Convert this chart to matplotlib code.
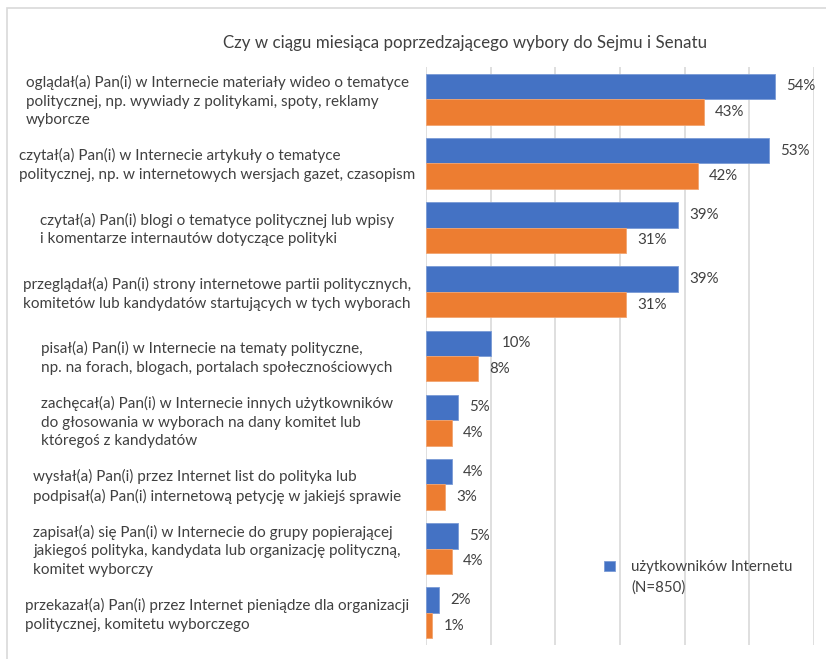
import matplotlib
matplotlib.use("Agg")
import matplotlib.pyplot as plt
from matplotlib.patches import Rectangle
import numpy as np

categories = [
    "oglądał(a) Pan(i) w Internecie materiały wideo o tematyce\npolitycznej, np. wywiady z politykami, spoty, reklamy\nwyborcze",
    "czytał(a) Pan(i) w Internecie artykuły o tematyce\npolitycznej, np. w internetowych wersjach gazet, czasopism",
    "czytał(a) Pan(i) blogi o tematyce politycznej lub wpisy\ni komentarze internautów dotyczące polityki",
    "przeglądał(a) Pan(i) strony internetowe partii politycznych,\nkomitetów lub kandydatów startujących w tych wyborach",
    "pisał(a) Pan(i) w Internecie na tematy polityczne,\nnp. na forach, blogach, portalach społecznościowych",
    "zachęcał(a) Pan(i) w Internecie innych użytkowników\ndo głosowania w wyborach na dany komitet lub\nktóregoś z kandydatów",
    "wysłał(a) Pan(i) przez Internet list do polityka lub\npodpisał(a) Pan(i) internetową petycję w jakiejś sprawie",
    "zapisał(a) się Pan(i) w Internecie do grupy popierającej\njakiegoś polityka, kandydata lub organizację polityczną,\nkomitet wyborczy",
    "przekazał(a) Pan(i) przez Internet pieniądze dla organizacji\npolitycznej, komitetu wyborczego",
]
users_internet = [54, 53, 39, 39, 10, 5, 4, 5, 2]
all_respondents = [43, 42, 31, 31, 8, 4, 3, 4, 1]
legend_lines = ["użytkowników Internetu", "(N=850)"]
title = "Czy w ciągu miesiąca poprzedzającego wybory do Sejmu i Senatu"

plt.rcParams['font.family'] = ['Lato', 'DejaVu Sans']

W, H = 826, 659
fig = plt.figure(figsize=(W/100, H/100), dpi=100)
fig.patch.set_facecolor('white')

# outer chart border (top and left visible)
fig.add_artist(Rectangle((7/W, -0.1), 1.2, 1.1 - 8/H, transform=fig.transFigure,
                         fill=False, edgecolor='#D9D9D9', linewidth=1.2))

ax = fig.add_axes([426/W, 1-645/H, (814-426)/W, (645-67)/H])
blue = '#4472C4'
orange = '#ED7D31'
txt = '#404040'

y = np.arange(len(categories))
h = 0.397
b1 = ax.barh(y - h/2, users_internet, height=h, color=blue, edgecolor='#7A9BD6', linewidth=0.6,
             zorder=3)
b2 = ax.barh(y + h/2, all_respondents, height=h, color=orange, edgecolor='#F2A470', linewidth=0.6,
             zorder=3)

for bars, vals in ((b1, users_internet), (b2, all_respondents)):
    for rect, v in zip(bars, vals):
        ax.annotate(f"{v}%", (rect.get_width(), rect.get_y() + rect.get_height()/2),
                    xytext=(8, 0), textcoords='offset points', ha='left', va='center',
                    fontsize=10.8, color=txt)

ax.set_xlim(0, 60)
ax.set_ylim(len(categories) - 0.5, -0.5)
ax.set_xticks(np.arange(0, 61, 10))
ax.xaxis.grid(True, color='#D9D9D9', linewidth=1.2, zorder=0)
ax.set_axisbelow(True)
ax.tick_params(axis='x', length=0, labelbottom=False)
ax.tick_params(axis='y', length=0, labelleft=False)
for s in ax.spines.values():
    s.set_visible(False)

# category labels centered in the label area, left-aligned lines
for yi, lab in zip(y, categories):
    ax.text(-32.3, yi + 0.03, lab, ha='center', va='center', multialignment='left',
            fontsize=11, color=txt, linespacing=1.42, clip_on=False)

fig.text(465/W, 1-43/H, title, ha='center', va='center', fontsize=12.2, color=txt)

blank = Rectangle((0, 0), 1, 1, visible=False)
leg = ax.legend(handles=[b1, blank], labels=legend_lines, loc='upper left',
                bbox_to_anchor=(598/W, 1-554/H), bbox_transform=fig.transFigure,
                frameon=False, fontsize=10.8, handlelength=0.7, handleheight=0.7,
                handletextpad=1.1, labelcolor=txt, borderaxespad=0, labelspacing=0.42)

fig.savefig('out.png', dpi=100)
